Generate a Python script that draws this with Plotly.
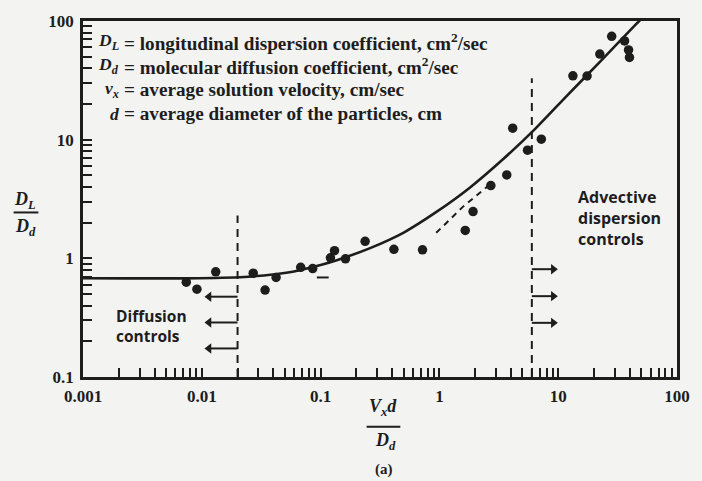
import plotly.graph_objects as go

# ---------------- data ----------------
x_tick_labels = ["0.001", "0.01", "0.1", "1", "10", "100"]
y_tick_labels = ["0.1", "1", "10", "100"]

# experimental points (Peclet number vs D_L/D_d)
pe_obs = [0.0074, 0.0091, 0.0131, 0.0271, 0.0341, 0.0422, 0.068, 0.0858,
          0.121, 0.131, 0.162, 0.237, 0.414, 0.721, 1.65, 1.92, 2.71,
          3.69, 4.14, 5.52, 7.21, 13.3, 17.5, 22.4, 28.2, 36.2, 39.1, 39.8]
dl_obs = [0.63, 0.55, 0.77, 0.75, 0.54, 0.69, 0.84, 0.82,
          1.01, 1.16, 0.99, 1.39, 1.19, 1.18, 1.72, 2.48, 4.10,
          5.05, 12.5, 8.16, 10.1, 34.5, 34.4, 52.6, 74.3, 68.0, 57.0, 49.3]

# solid fitted curve
curve_pe = [0.001, 0.0094, 0.0246, 0.0531, 0.1, 0.139, 0.261, 0.501, 0.944,
            1.78, 3.41, 6.43, 12.1, 23.3, 43.8, 52.0]
curve_dl = [0.68, 0.68, 0.70, 0.76, 0.88, 0.97, 1.22, 1.65, 2.46,
            3.90, 6.80, 12.4, 24.0, 47.0, 91.0, 108.0]

# dashed curve pieces
dash_a_pe = [0.093, 0.117]
dash_a_dl = [0.69, 0.69]
dash_b_pe = [0.94, 1.59, 2.71]
dash_b_dl = [1.64, 2.74, 4.26]

# regime limits
diff_limit_pe = 0.02
diff_limit_top = 2.3
adv_limit_pe = 6.0
adv_limit_top = 33.0
y_bottom = 0.1

left_arrow_dl = [0.475, 0.288, 0.174]
left_arrow_tip = 0.0115
right_arrow_dl = [0.81, 0.48, 0.286]
right_arrow_tip = 9.1

# ---------------- styling ----------------
INK = "#1d1d1d"
BG = "#f3f4f2"
W, H = 702, 481
ML, MR, MT, MB = 83, 20, 20, 104
PW, PH = W - ML - MR, H - MT - MB


def px(xp):
    return (xp - ML) / PW


def py(yp):
    return (H - MB - yp) / PH


fig = go.Figure()

fig.add_trace(go.Scatter(x=curve_pe, y=curve_dl, mode="lines",
                         line=dict(color=INK, width=2.6, shape="spline", smoothing=0.8),
                         hoverinfo="skip"))
fig.add_trace(go.Scatter(x=dash_a_pe, y=dash_a_dl, mode="lines",
                         line=dict(color=INK, width=2), hoverinfo="skip"))
fig.add_trace(go.Scatter(x=dash_b_pe, y=dash_b_dl, mode="lines",
                         line=dict(color=INK, width=2, dash="6px,5px"),
                         hoverinfo="skip"))
fig.add_trace(go.Scatter(x=[diff_limit_pe, diff_limit_pe], y=[y_bottom, diff_limit_top],
                         mode="lines", line=dict(color=INK, width=2, dash="8px,6px"),
                         hoverinfo="skip"))
fig.add_trace(go.Scatter(x=[adv_limit_pe, adv_limit_pe], y=[y_bottom, adv_limit_top],
                         mode="lines", line=dict(color=INK, width=2, dash="8px,6px"),
                         hoverinfo="skip"))

# arrow shafts and heads
lx, ly = [], []
for yv in left_arrow_dl:
    lx += [diff_limit_pe, left_arrow_tip, None]
    ly += [yv, yv, None]
rx, ry = [], []
for yv in right_arrow_dl:
    rx += [adv_limit_pe, right_arrow_tip, None]
    ry += [yv, yv, None]
fig.add_trace(go.Scatter(x=lx + rx, y=ly + ry, mode="lines",
                         line=dict(color=INK, width=2), hoverinfo="skip"))
fig.add_trace(go.Scatter(x=[left_arrow_tip] * len(left_arrow_dl), y=left_arrow_dl,
                         mode="markers",
                         marker=dict(symbol="triangle-left", size=9, color=INK,
                                     line=dict(width=0)),
                         hoverinfo="skip"))
fig.add_trace(go.Scatter(x=[right_arrow_tip] * len(right_arrow_dl), y=right_arrow_dl,
                         mode="markers",
                         marker=dict(symbol="triangle-right", size=9, color=INK,
                                     line=dict(width=0)),
                         hoverinfo="skip"))

fig.add_trace(go.Scatter(x=pe_obs, y=dl_obs, mode="markers",
                         marker=dict(color=INK, size=9.5, line=dict(width=0)),
                         hoverinfo="skip"))

annotations = []
SERIF = "Liberation Serif"
SANS = "Open Sans"

legend_syms = ["<i>D<sub>L</sub></i>", "<i>D<sub>d</sub></i>",
               "<i>v<sub>x</sub></i>", "<i>d</i>"]
legend_txt = ["= longitudinal dispersion coefficient, cm<sup>2</sup>/sec",
              "= molecular diffusion coefficient, cm<sup>2</sup>/sec",
              "= average solution velocity, cm/sec",
              "= average diameter of the particles, cm"]
legend_y = [41, 65, 89, 113]
for s, t, yy in zip(legend_syms, legend_txt, legend_y):
    annotations.append(dict(x=px(121), y=py(yy), xref="paper", yref="paper",
                            text="<b>" + s + "</b>", showarrow=False,
                            xanchor="right", yanchor="middle",
                            font=dict(family=SERIF, size=17.5, color=INK)))
    annotations.append(dict(x=px(122), y=py(yy), xref="paper", yref="paper",
                            text="<b>" + t + "</b>", showarrow=False,
                            xanchor="left", yanchor="middle",
                            font=dict(family=SERIF, size=19.2, color=INK)))

annotations.append(dict(x=px(114), y=py(326), xref="paper", yref="paper",
                        text="<b>Diffusion<br>controls</b>", showarrow=False,
                        xanchor="left", yanchor="middle", align="left",
                        font=dict(family=SANS, size=15.5, color=INK)))
annotations.append(dict(x=px(580), y=py(218), xref="paper", yref="paper",
                        text="<b>Advective<br>dispersion<br>controls</b>", showarrow=False,
                        xanchor="left", yanchor="middle", align="left",
                        font=dict(family=SANS, size=16, color=INK)))

# axis titles as fractions
annotations.append(dict(x=px(25), y=py(200), xref="paper", yref="paper",
                        text="<b><i>D<sub>L</sub></i></b>", showarrow=False,
                        xanchor="center", yanchor="middle",
                        font=dict(family=SERIF, size=18, color=INK)))
annotations.append(dict(x=px(25), y=py(227), xref="paper", yref="paper",
                        text="<b><i>D<sub>d</sub></i></b>", showarrow=False,
                        xanchor="center", yanchor="middle",
                        font=dict(family=SERIF, size=18, color=INK)))
annotations.append(dict(x=px(386), y=py(408), xref="paper", yref="paper",
                        text="<b><i>V<sub>x</sub>d</i></b>", showarrow=False,
                        xanchor="center", yanchor="middle",
                        font=dict(family=SERIF, size=18, color=INK)))
annotations.append(dict(x=px(388), y=py(442), xref="paper", yref="paper",
                        text="<b><i>D<sub>d</sub></i></b>", showarrow=False,
                        xanchor="center", yanchor="middle",
                        font=dict(family=SERIF, size=18, color=INK)))
annotations.append(dict(x=px(387), y=py(470), xref="paper", yref="paper",
                        text="<b>(a)</b>", showarrow=False,
                        xanchor="center", yanchor="middle",
                        font=dict(family=SERIF, size=15, color=INK)))

shapes = [
    dict(type="line", xref="paper", yref="paper", x0=px(13), x1=px(38),
         y0=py(212), y1=py(212), line=dict(color=INK, width=2)),
    dict(type="line", xref="paper", yref="paper", x0=px(369), x1=px(403),
         y0=py(427), y1=py(427), line=dict(color=INK, width=2)),
]

# ticks: labelled decades, unlabelled minor ticks at 2..9
x_major = [10.0 ** (i - 3) for i in range(len(x_tick_labels))]
x_minor = [m * b for b in x_major[:-1] for m in range(2, 10)]
y_major = [10.0 ** (i - 1) for i in range(len(y_tick_labels))]
y_minor = [m * b for b in y_major[:-1] for m in range(2, 10)]

axis_common = dict(showgrid=False, zeroline=False, showline=True, linewidth=2.6,
                   linecolor=INK, mirror=True, ticks="inside", ticklen=9,
                   tickwidth=1.6, tickcolor=INK,
                   tickfont=dict(family=SERIF, size=17, color=INK, weight="bold"))

fig.update_layout(
    width=W, height=H,
    margin=dict(l=ML, r=MR, t=MT, b=MB),
    paper_bgcolor=BG, plot_bgcolor=BG,
    showlegend=False,
    xaxis=dict(type="log", range=[-3, 2], tickmode="array",
               tickvals=x_major, ticktext=x_tick_labels, ticklabelstandoff=2,
               minor=dict(tickmode="array", tickvals=x_minor, ticks="inside",
                          ticklen=9, tickwidth=1.6, tickcolor=INK, showgrid=False),
               **axis_common),
    yaxis=dict(type="log", range=[-1, 2], tickmode="array",
               tickvals=y_major, ticktext=y_tick_labels, ticklabelstandoff=3,
               minor=dict(tickmode="array", tickvals=y_minor, ticks="inside",
                          ticklen=9, tickwidth=1.6, tickcolor=INK, showgrid=False),
               **axis_common),
    annotations=annotations,
    shapes=shapes,
)

fig.write_html(
    "out.html",
    config={"displayModeBar": False},
    post_script=("document.body.style.margin='0';document.body.style.padding='0';"
                 "document.body.style.overflow='hidden';"
                 "document.body.style.background='" + BG + "';"),
)
